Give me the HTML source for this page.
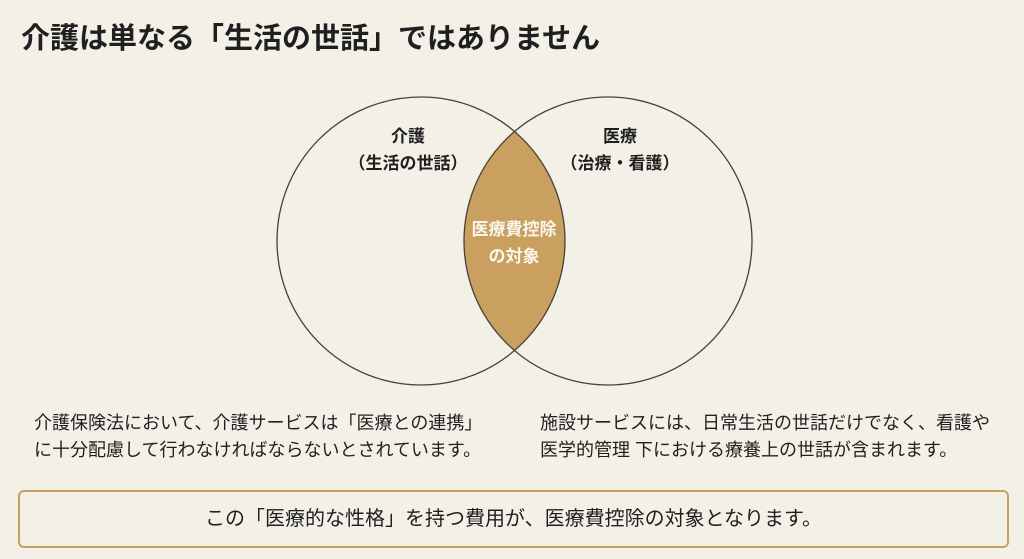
<!DOCTYPE html>
<html><head><meta charset="utf-8"><style>
body{margin:0;width:1024px;height:559px;background:#f3f0e7;font-family:"Liberation Sans","Noto Sans CJK JP",sans-serif;color:#1f1f1f;position:relative;overflow:hidden}
.t{position:absolute;white-space:nowrap}
</style></head><body>
<div class="t" style="left:21px;top:15px;font-size:29px;font-weight:bold;">介護は単なる「生活の世話」ではありません</div>
<svg width="1024" height="559" style="position:absolute;left:0;top:0">
<defs><clipPath id="c"><circle cx="421" cy="241" r="144"/></clipPath></defs>
<circle cx="608" cy="241" r="144" fill="#c9a060" clip-path="url(#c)"/>
<circle cx="421" cy="241" r="144" fill="none" stroke="#4a4036" stroke-width="1.3"/>
<circle cx="608" cy="241" r="144" fill="none" stroke="#4a4036" stroke-width="1.3"/>
<g font-family="Liberation Sans, Noto Sans CJK JP, sans-serif" font-weight="bold" text-anchor="middle" font-size="17" fill="#1f1f1f">
<text x="408" y="142">介護</text>
<text x="408" y="169">（生活の世話）</text>
<text x="620" y="142">医療</text>
<text x="620" y="169">（治療・看護）</text>
<text x="514" y="235" fill="#fbf6ec" font-size="17">医療費控除</text>
<text x="514" y="262" fill="#fbf6ec" font-size="17">の対象</text>
</g>
</svg>
<div class="t" style="left:34px;top:410px;font-size:18px;line-height:27px">介護保険法において、介護サービスは「医療との連携」<br>に十分配慮して行わなければならないとされています。</div>
<div class="t" style="left:540px;top:410px;font-size:18px;line-height:27px">施設サービスには、日常生活の世話だけでなく、看護や<br>医学的管理 下における療養上の世話が含まれます。</div>
<div style="position:absolute;left:18px;top:490px;width:991px;height:58px;border:2px solid #c9a063;border-radius:6px;box-sizing:border-box;text-align:center;line-height:54px;font-size:20px">この「医療的な性格」を持つ費用が、医療費控除の対象となります。</div>
</body></html>
